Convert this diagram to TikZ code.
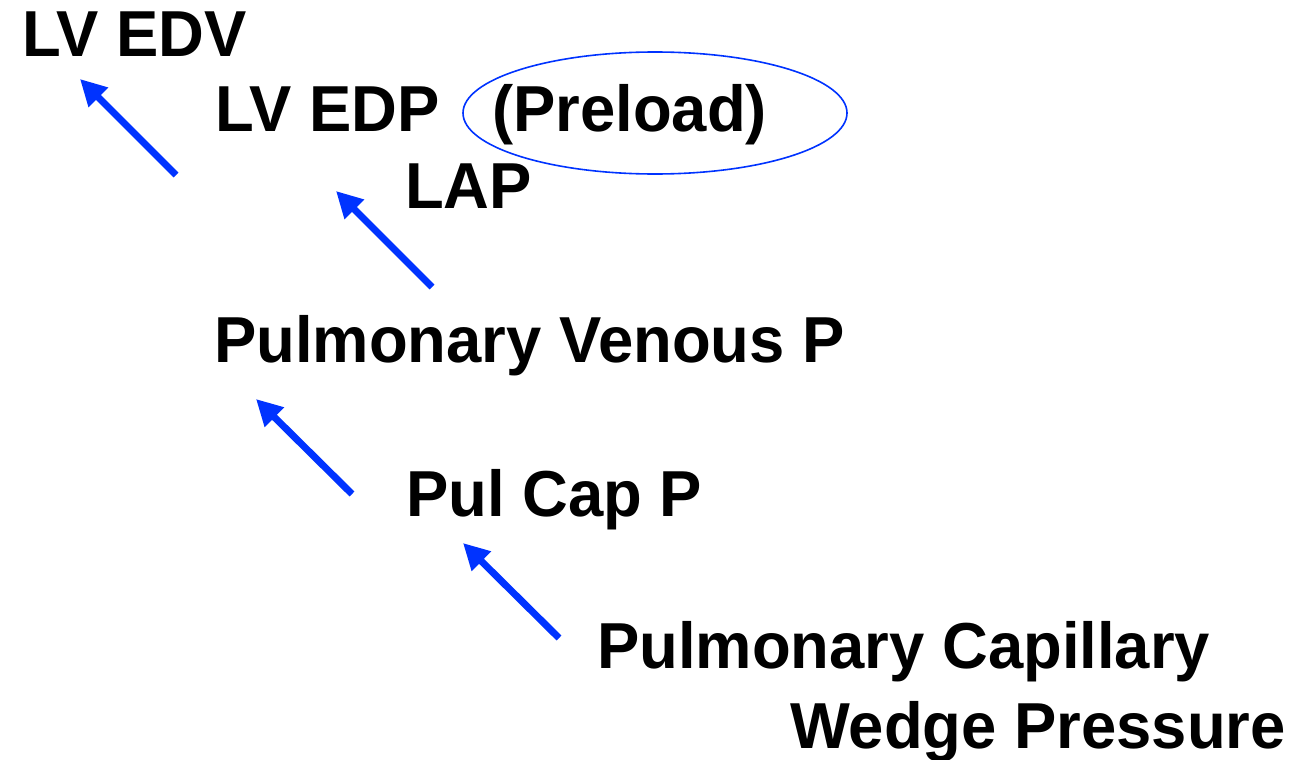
\documentclass[tikz,border=0pt]{standalone}
\usepackage{fontspec}
\setmainfont{Liberation Sans}[FakeStretch=0.975]
\usetikzlibrary{arrows.meta}
\definecolor{arrowblue}{HTML}{0033FF}
\begin{document}
\begin{tikzpicture}[x=1pt,y=-1pt,
  lbl/.style={anchor=base west,inner sep=0pt,font=\fontsize{65}{78}\selectfont\bfseries},
  bluearrow/.style={draw=arrowblue,line width=7pt,-{Triangle[length=26pt,width=26pt]}}]
\useasboundingbox (0,0) rectangle (1290,760);
\fill[white] (0,0) rectangle (1290,760);
\node[lbl] (edv) at (22,57) {LV EDV};
\node[lbl] (edp) at (215,131) {LV EDP};
\node[lbl] (pre) at (492,131) {(Preload)};
\node[lbl] (lap) at (405,208) {LAP};
\node[lbl] (pvp) at (214,362) {Pulmonary Venous P};
\node[lbl] (pcp) at (406,516) {Pul Cap P};
\node[lbl] (pcw1) at (597,668) {Pulmonary Capillary};
\node[lbl] (pcw2) at (790,748) {Wedge Pressure};
\draw[arrowblue,line width=1.6pt] (655,113) ellipse [x radius=192, y radius=61];
\coordinate (a1s) at (176,175); \coordinate (a1e) at (80,79);
\coordinate (a2s) at (432,287); \coordinate (a2e) at (336,191);
\coordinate (a3s) at (352,494); \coordinate (a3e) at (256,399);
\coordinate (a4s) at (559,638); \coordinate (a4e) at (463,543);
\draw[bluearrow] (a1s) -- (a1e);
\draw[bluearrow] (a2s) -- (a2e);
\draw[bluearrow] (a3s) -- (a3e);
\draw[bluearrow] (a4s) -- (a4e);
\end{tikzpicture}
\end{document}
